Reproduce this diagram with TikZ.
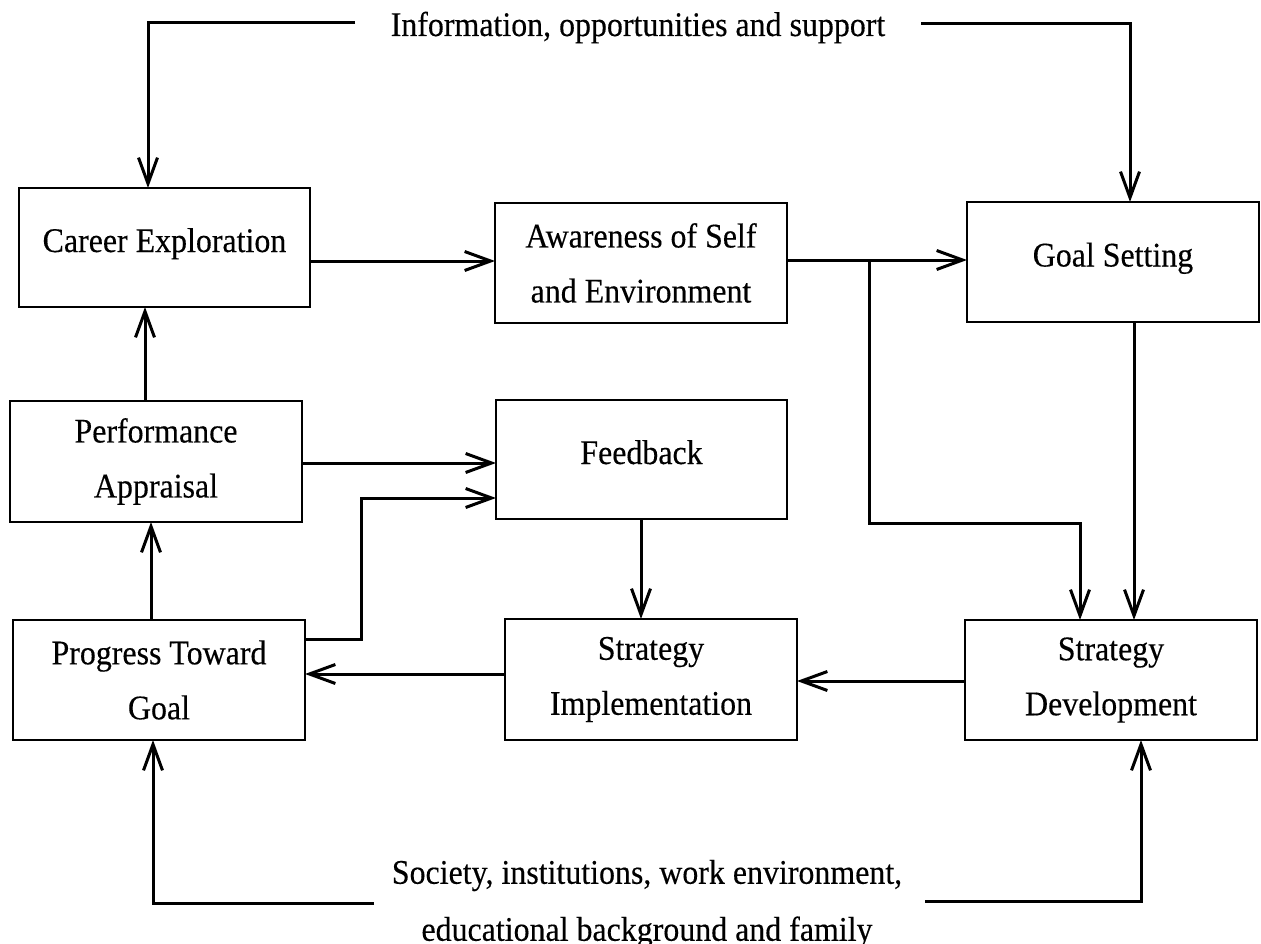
\documentclass[tikz,border=0pt]{standalone}
\usepackage{fontspec}
\setmainfont{Liberation Serif}[FakeStretch=0.925,FakeBold=0.3]
\usetikzlibrary{arrows.meta}
\begin{document}
\begin{tikzpicture}[x=1pt,y=-1pt,
  box/.style={draw, line width=2.4pt, inner sep=0pt, outer sep=0pt,
    minimum width=292pt, minimum height=120pt, align=center,
    font=\fontsize{34.5pt}{55pt}\selectfont},
  oneline/.style={text height=26pt, text depth=17pt},
  arr/.style={line width=3pt, -{Straight Barb[length=26pt,width=19pt]}},
  freetext/.style={inner sep=0pt, align=center,
    font=\fontsize{34.5pt}{57pt}\selectfont}]
\useasboundingbox (0,0) rectangle (1261,944);

% boxes
\node[box, oneline, minimum width=291pt, minimum height=119pt] (career) at (164.5,247.5) {Career Exploration};
\node[box] (aware) at (641,263) {Awareness of Self\\and Environment};
\node[box, oneline] (goal) at (1113,262) {Goal Setting};
\node[box, minimum height=121pt] (perf) at (156,461.5) {Performance\\Appraisal};
\node[box, oneline, minimum width=291pt, minimum height=119pt] (feed) at (641.5,459.5) {Feedback};
\node[box] (prog) at (159,680) {Progress Toward\\Goal};
\node[box, minimum height=121pt] (impl) at (651,679.5) {Strategy\\Implementation};
\node[box] (dev) at (1111,680) {Strategy\\Development};

% free texts
\node[freetext, anchor=base] (info) at (638,36) {Information, opportunities and support};
\node[freetext] (society) at (647,904) {Society, institutions, work environment,\\educational background and family};

% free ends
\coordinate (infoL) at (355,23);
\coordinate (infoR) at (921,24);
\coordinate (socL) at (374,903);
\coordinate (socR) at (925,901);
\coordinate (brtop) at (869,260);
\coordinate (brbot) at (869,523);
\coordinate (elbow) at (361,498);

% connectors
\draw[arr] (infoL) -| ([xshift=-16.5pt]career.north);
\draw[arr] (infoR) -| ([xshift=17pt]goal.north);
\draw[arr] ([yshift=-13.5pt]career.east) -- ([yshift=2pt]aware.west);
\draw[arr] ([yshift=3pt]aware.east) -- ([yshift=2pt]goal.west);
\draw[arr] (brtop) -- (brbot) -| ([xshift=-31pt]dev.north);
\draw[arr] ([xshift=21pt]goal.south) -- ([xshift=23pt]dev.north);
\draw[arr] ([yshift=-1pt]dev.west) -- ([yshift=-1.5pt]impl.east);
\draw[arr] ([yshift=5.5pt]impl.west) -- ([yshift=6pt]prog.east);
\draw[arr] ([xshift=-0.5pt]feed.south) -- ([xshift=-10pt]impl.north);
\draw[arr] ([yshift=-1.5pt]perf.east) -- ([yshift=-3.5pt]feed.west);
\draw[arr] ([yshift=41pt]prog.east) -| (elbow) -- ([yshift=-38.5pt]feed.west);
\draw[arr] ([xshift=-8pt]prog.north) -- ([xshift=-5pt]perf.south);
\draw[arr] ([xshift=-11pt]perf.north) -- ([xshift=-19.5pt]career.south);
\draw[arr] (socL) -| ([xshift=-6pt]prog.south);
\draw[arr] (socR) -| ([xshift=30pt]dev.south);
\end{tikzpicture}
\end{document}
